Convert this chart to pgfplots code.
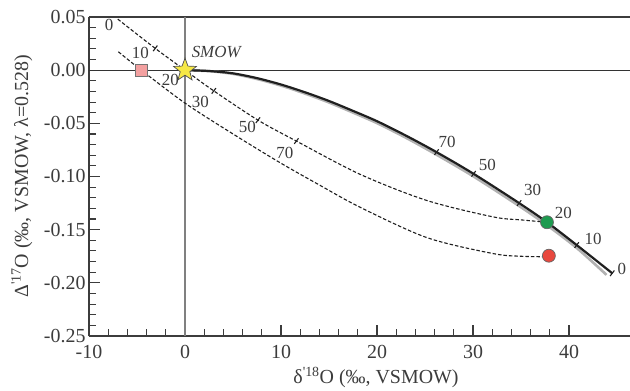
\documentclass[border=0pt]{standalone}
\usepackage{pgfplots}
\pgfplotsset{compat=1.18}
\usepackage{fontspec}
\setmainfont{Liberation Serif}
\usetikzlibrary{calc}

\pgfdeclareplotmark{fstar}{%
  \pgfpathmoveto{\pgfpointpolar{90}{\pgfplotmarksize}}%
  \pgfpathlineto{\pgfpointpolar{126}{0.42\pgfplotmarksize}}%
  \pgfpathlineto{\pgfpointpolar{162}{\pgfplotmarksize}}%
  \pgfpathlineto{\pgfpointpolar{198}{0.42\pgfplotmarksize}}%
  \pgfpathlineto{\pgfpointpolar{234}{\pgfplotmarksize}}%
  \pgfpathlineto{\pgfpointpolar{270}{0.42\pgfplotmarksize}}%
  \pgfpathlineto{\pgfpointpolar{306}{\pgfplotmarksize}}%
  \pgfpathlineto{\pgfpointpolar{342}{0.42\pgfplotmarksize}}%
  \pgfpathlineto{\pgfpointpolar{18}{\pgfplotmarksize}}%
  \pgfpathlineto{\pgfpointpolar{54}{0.42\pgfplotmarksize}}%
  \pgfpathclose
  \pgfusepathqfillstroke
}

\definecolor{axgray}{RGB}{60,60,60}
\definecolor{mygreen}{RGB}{30,155,80}
\definecolor{myred}{RGB}{232,72,62}
\definecolor{mypink}{RGB}{243,160,160}
\definecolor{mystar}{RGB}{246,232,70}

\begin{document}
\begin{tikzpicture}
\begin{axis}[
  scale only axis, width=541bp, height=319bp,
  xmin=-10, xmax=46.35, ymin=-0.25, ymax=0.05,
  clip=false,
  axis x line*=bottom, axis y line*=left,
  axis line style={line width=1.6bp, color=axgray, -},
  xtick={-10,0,10,20,30,40},
  ytick={-0.25,-0.2,-0.15,-0.1,-0.05,0,0.05},
  minor tick num=4,
  tick align=inside,
  major tick length=11bp, minor tick length=7bp,
  tick style={line width=1.1bp, color=axgray},
  /pgf/number format/assume math mode=true,
  yticklabel style={/pgf/number format/.cd, fixed, fixed zerofill, precision=2},
  xticklabel style={/pgf/number format/.cd, fixed, precision=0, /tikz/.cd, yshift=-6bp},
  ticklabel style={font=\fontsize{20}{22}\selectfont, text=axgray},
  label style={font=\fontsize{20}{24}\selectfont, text=axgray},
  xlabel={δ\textsuperscript{\textquotesingle 18}O (‰, VSMOW)},
  ylabel={Δ\textsuperscript{\textquotesingle 17}O (‰, VSMOW, λ=0.528)},
  xlabel style={at={(axis description cs:0.5305,-0.13)}, anchor=center},
  ylabel style={at={(axis description cs:-0.124,0.5)}, anchor=center},
]
% reference lines
\addplot[line width=1.6bp, color=axgray] coordinates {(-10,0.05) (46.35,0.05)};
\addplot[line width=0.9bp, color=black!80] coordinates {(-10,0) (46.35,0)};
\addplot[line width=1.3bp, color=black!50] coordinates {(0,-0.25) (0,0.05)};

% gray shadow of main curve
\addplot[line width=2.6bp, color=black!30, smooth] coordinates {
(0,0) (2.5,-0.0009) (5,-0.0035) (7.5,-0.0083) (10,-0.0145) (12.5,-0.0220)
(15,-0.0304) (17.5,-0.0399) (20,-0.0498) (23,-0.0635) (26.2,-0.0795)
(30.06,-0.1000) (34.8,-0.1277) (37.7,-0.1458) (40.8,-0.1672) (43.9,-0.1925)};
% main curve
\addplot[line width=2.2bp, color=black!88, smooth] coordinates {
(0,0) (2.5,-0.0008) (5,-0.003) (7.5,-0.0075) (10,-0.0135) (12.5,-0.0208)
(15,-0.029) (17.5,-0.0383) (20,-0.048) (23,-0.0615) (26.2,-0.0771)
(30.06,-0.0975) (34.8,-0.125) (37.7,-0.143) (40.8,-0.1645) (44.5,-0.191)};
\addplot[only marks, mark=|, mark size=3.5bp, mark options={rotate=-37, line width=1.1bp, color=black!88}]
coordinates {(26.2,-0.0771) (30.06,-0.0975) (34.8,-0.125) (40.8,-0.1645) (44.5,-0.191)};

% upper dashed line
\addplot[line width=1.1bp, color=black!88, dash pattern=on 3.5bp off 2bp, smooth] coordinates {
(-7.0,0.048) (-3.1,0.0205) (0,0) (3.0,-0.0195) (7.6,-0.047) (11.6,-0.0667)
(18.25,-0.098) (25.2,-0.1226) (32.1,-0.138) (35,-0.1408) (37.7,-0.143)};
\addplot[only marks, mark=|, mark size=3.5bp, mark options={rotate=-37, line width=1.1bp, color=black!88}]
coordinates {(-3.1,0.0205) (3.0,-0.0195) (7.6,-0.047) (11.6,-0.0667)};

% lower dashed line
\addplot[line width=1.1bp, color=black!88, dash pattern=on 3.5bp off 2bp, smooth] coordinates {
(-6.94,0.0173) (-4.55,0.0) (0,-0.031) (5,-0.060) (9.9,-0.087) (14,-0.108)
(18.25,-0.129) (25.2,-0.1575) (32.1,-0.1725) (35,-0.175) (37.7,-0.1755)};

% symbols
\addplot[only marks, mark=square*, mark size=6bp, mark options={fill=mypink, draw=black!55, line width=0.7bp}]
coordinates {(-4.55,0.0)};
\addplot[only marks, mark=fstar, mark size=12bp, mark options={fill=mystar, draw=black!70, line width=0.7bp}]
coordinates {(0,0)};
\addplot[only marks, mark=*, mark size=6.5bp, mark options={fill=mygreen, draw=black!60, line width=0.7bp}]
coordinates {(37.7,-0.143)};
\addplot[only marks, mark=*, mark size=6.5bp, mark options={fill=myred, draw=black!60, line width=0.7bp}]
coordinates {(37.9,-0.1745)};

% labels
\begin{scope}[every node/.style={font=\fontsize{17}{20}\selectfont, text=axgray, inner sep=0pt}]
\node at (axis cs:-7.9,0.0425) {0};
\node at (axis cs:-4.65,0.016) {10};
\node at (axis cs:-1.53,-0.0094) {20};
\node at (axis cs:1.6,-0.030) {30};
\node at (axis cs:6.5,-0.0538) {50};
\node at (axis cs:10.4,-0.0774) {70};
\node at (axis cs:27.3,-0.0676) {70};
\node at (axis cs:31.5,-0.0896) {50};
\node at (axis cs:36.2,-0.113) {30};
\node at (axis cs:39.4,-0.1346) {20};
\node at (axis cs:42.5,-0.1588) {10};
\node at (axis cs:45.5,-0.187) {0};
\node at (axis cs:3.25,0.017) {\itshape SMOW};
\end{scope}
\end{axis}
\pgfresetboundingbox
\path[use as bounding box] ($(current axis.south west)+(-89bp,-55bp)$) rectangle ($(current axis.north east)+(0bp,17bp)$);
\end{tikzpicture}
\end{document}
